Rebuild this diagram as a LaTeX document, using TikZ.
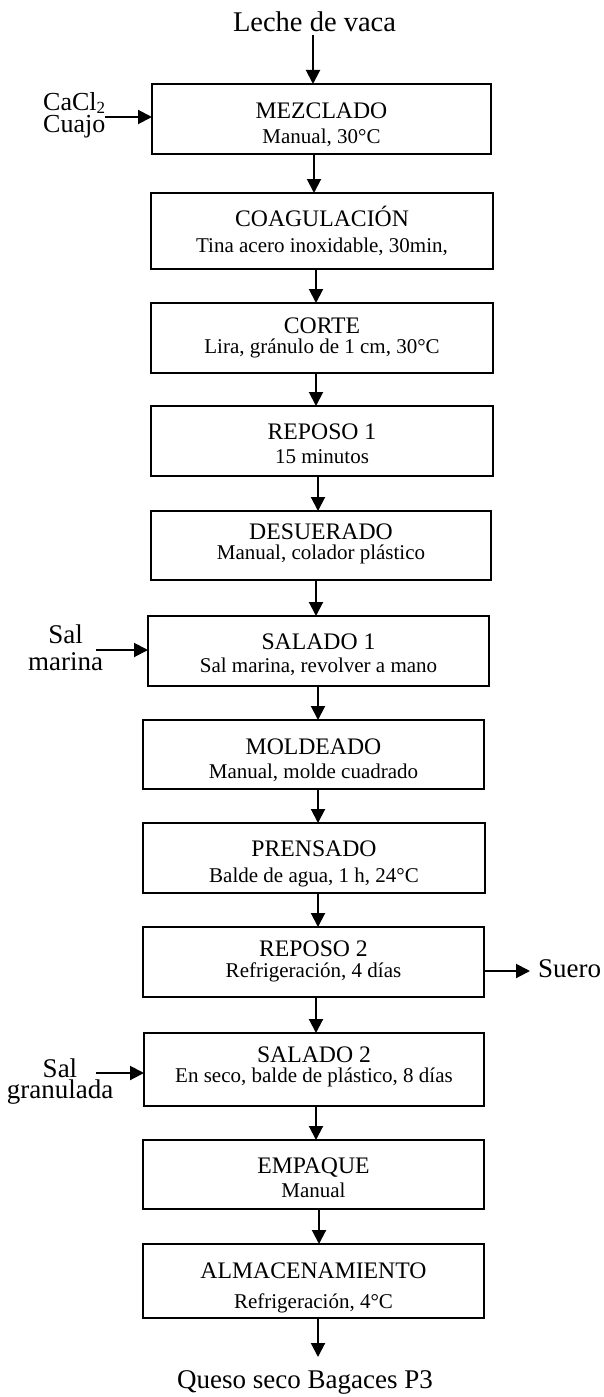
\documentclass[tikz,border=0pt]{standalone}
\usepackage{fontspec}
\setmainfont{Liberation Serif}
\usetikzlibrary{arrows.meta}
\newcommand\procbox[9]{%
  \node[box,minimum width={(#3-#2)*1pt},minimum height={(#5-#4)*1pt}] (#1) at ({(#2+#3)/2},{(#4+#5)/2}) {};
  \node[ttl] (#1-t) at ({(#2+#3)/2},#7) {#6};
  \node[sub] (#1-s) at ({(#2+#3)/2},#9) {#8};}
\begin{document}
\begin{tikzpicture}[x=1pt,y=-1pt,
  box/.style={draw,line width=2pt,inner sep=0pt,outer sep=0pt},
  ttl/.style={anchor=base,inner sep=0pt,font=\fontsize{23.7}{24}\selectfont},
  sub/.style={anchor=base,inner sep=0pt,font=\fontsize{21}{22}\selectfont},
  lbl/.style={anchor=base,inner sep=0pt,font=\fontsize{27}{28}\selectfont},
  lblw/.style={anchor=base west,inner sep=0pt,font=\fontsize{27}{28}\selectfont},
  arr/.style={line width=2pt,-{Triangle[width=14pt,length=14pt]}}]
\useasboundingbox (0,0) rectangle (603,1397);

\procbox{mez}{152}{491}{84}{154}{MEZCLADO}{118}{Manual, 30°C}{143}
\procbox{coag}{151}{493}{193}{269}{COAGULACIÓN}{226}{Tina acero inoxidable, 30min,}{252}
\procbox{corte}{151}{493}{303}{373}{CORTE}{333}{Lira, gránulo de 1 cm, 30°C}{353}
\procbox{repa}{151}{493}{406}{476}{REPOSO 1}{439}{15 minutos}{463}
\procbox{des}{151}{491}{511}{580}{DESUERADO}{539}{Manual, colador plástico}{559}
\procbox{sala}{148}{489}{616}{686}{SALADO 1}{649}{Sal marina, revolver a mano}{672}
\procbox{mold}{143}{484}{720}{789}{MOLDEADO}{754}{Manual, molde cuadrado}{778}
\procbox{pren}{143}{485}{823}{893}{PRENSADO}{856}{Balde de agua, 1 h, 24°C}{882}
\procbox{repb}{143}{484}{927}{997}{REPOSO 2}{956}{Refrigeración, 4 días}{977}
\procbox{salb}{144}{484}{1033}{1106}{SALADO 2}{1062}{En seco, balde de plástico, 8 días}{1082}
\procbox{emp}{143}{484}{1140}{1209}{EMPAQUE}{1173}{Manual}{1197}
\procbox{alm}{143}{484}{1244}{1318}{ALMACENAMIENTO}{1278}{Refrigeración, 4°C}{1308}

% top input
\node[anchor=base,inner sep=0pt,font=\fontsize{28.5}{29}\selectfont] (leche) at (314.5,32) {Leche de vaca};
\coordinate (lecheS) at (313,35);
\draw[arr] (lecheS) -- (lecheS |- mez.north);

% vertical flow arrows
\foreach \a/\b/\x in {mez/coag/314, coag/corte/316, corte/repa/316, repa/des/318,
  des/sala/316, sala/mold/318, mold/pren/318, pren/repb/318, repb/salb/316,
  salb/emp/316, emp/alm/319}{
  \coordinate (ax) at (\x,0);
  \draw[arr] (\a.south -| ax) -- (\b.north -| ax);
}

% output
\node[lbl] (queso) at (305,1388) {Queso seco Bagaces P3};
\coordinate (axo) at (318,0);
\coordinate (quesoN) at (318,1357);
\draw[arr] (alm.south -| axo) -- (quesoN);

% side inputs (base anchor = baseline of last line)
\node[anchor=base west,inner sep=0pt,align=left,font=\fontsize{26}{20}\selectfont] (cacl) at (43,132)
  {CaCl\raisebox{-0.3ex}{\fontsize{17}{17}\selectfont 2}\\Cuajo};
\coordinate (caclA) at (105,117);
\draw[arr] (caclA) -- (caclA -| mez.west);

\node[anchor=base,inner sep=0pt,align=center,font=\fontsize{27}{27}\selectfont] (salm) at (65.5,670) {Sal\\marina};
\coordinate (salA) at (96,650);
\draw[arr] (salA) -- (salA -| sala.west);

\node[anchor=base,inner sep=0pt,align=center,font=\fontsize{27}{21}\selectfont] (gran) at (60,1098) {Sal\\granulada};
\coordinate (granA) at (96,1073);
\draw[arr] (granA) -- (granA -| salb.west);

% side output
\coordinate (sueroA) at (530,971);
\draw[arr] (sueroA -| repb.east) -- (sueroA);
\node[lblw] (suero) at (538,977) {Suero};
\end{tikzpicture}
\end{document}
